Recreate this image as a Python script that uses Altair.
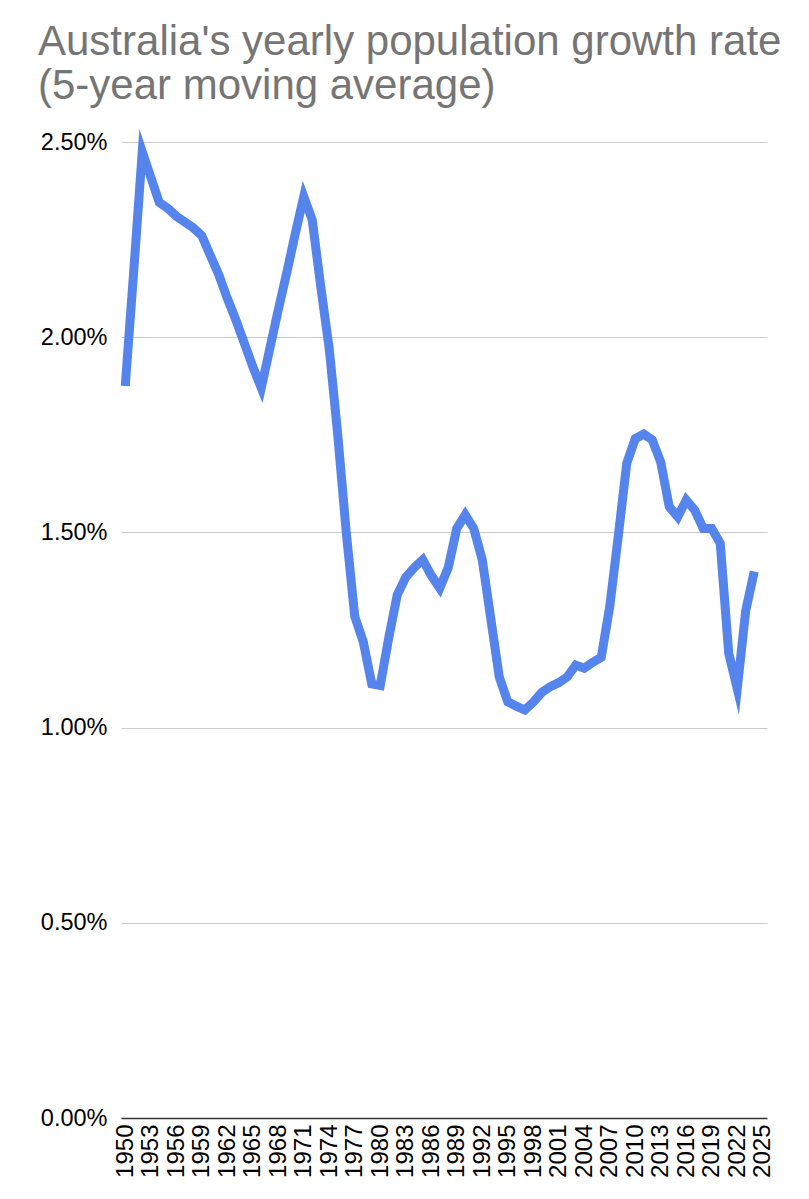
import altair as alt
import pandas as pd

years = list(range(1950, 2026))
growth = [
    1.875, 2.17, 2.475, 2.41, 2.345, 2.33, 2.31, 2.295, 2.28, 2.26,  # 1950-1959
    2.21, 2.16, 2.10, 2.045, 1.985, 1.925, 1.87, 1.97, 2.07, 2.165,  # 1960-1969
    2.265, 2.36, 2.30, 2.13, 1.97, 1.75, 1.50, 1.285, 1.22, 1.112,   # 1970-1979
    1.108, 1.23, 1.34, 1.385, 1.41, 1.43, 1.39, 1.357, 1.41, 1.51,   # 1980-1989
    1.545, 1.51, 1.43, 1.28, 1.13, 1.066, 1.055, 1.045, 1.065, 1.09, # 1990-1999
    1.105, 1.115, 1.13, 1.16, 1.152, 1.167, 1.18, 1.31, 1.49, 1.677, # 2000-2009
    1.74, 1.752, 1.737, 1.68, 1.566, 1.54, 1.583, 1.557, 1.51, 1.51, # 2010-2019
    1.472, 1.19, 1.10, 1.30, 1.40, None,                              # 2020-2025
]
tick_years = list(range(1950, 2026, 3))
y_ticks = [0.0, 0.5, 1.0, 1.5, 2.0, 2.5]
title_lines = ["Australia's yearly population growth rate", "(5-year moving average)"]

df = pd.DataFrame({"year": years, "growth": growth})

FONT = "Liberation Sans"

chart = (
    alt.Chart(df)
    .mark_line(
        color="#5484ec",
        strokeWidth=9,
        strokeJoin="miter",
        strokeMiterLimit=10,
        strokeCap="butt",
    )
    .encode(
        x=alt.X(
            "year:O",
            scale=alt.Scale(type="point", domain=years, padding=0.5),
            axis=alt.Axis(
                values=tick_years,
                labelAngle=-90,
                title=None,
                ticks=False,
                grid=False,
                domainColor="#333333",
                domainWidth=1.5,
                labelFontSize=24,
                labelPadding=6,
                labelColor="#000000",
                labelFont=FONT,
            ),
        ),
        y=alt.Y(
            "growth:Q",
            scale=alt.Scale(domain=[0, 2.5], nice=False, zero=True),
            axis=alt.Axis(
                values=y_ticks,
                labelExpr="format(datum.value, '.2f') + '%'",
                title=None,
                ticks=False,
                domain=False,
                grid=True,
                gridColor="#cccccc",
                gridWidth=1,
                labelFontSize=23.5,
                labelPadding=14,
                labelColor="#000000",
                labelFont=FONT,
            ),
        ),
    )
    .properties(
        width=646,
        height=976,
        autosize="none",
        padding={"left": 113, "top": 134, "right": 34, "bottom": 65},
        title=alt.TitleParams(
            text=title_lines,
            anchor="start",
            frame="group",
            dx=-83,
            dy=9,
            fontSize=42,
            font=FONT,
            fontWeight="normal",
            color="#757575",
            lineHeight=44,
            offset=8,
        ),
    )
    .configure_view(stroke=None)
)

chart.save("out.html", embed_options={"renderer": "svg", "actions": False})
